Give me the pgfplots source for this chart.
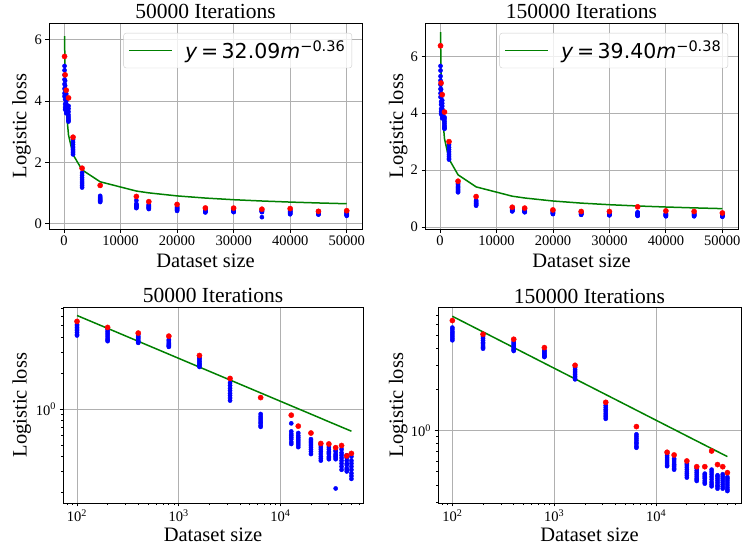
\documentclass[border=0pt]{standalone}
\usepackage{pgfplots}
\usepackage{pgfplotstable}
\pgfplotsset{compat=1.18}
\usepackage{fontspec}
\setmainfont{Liberation Serif}
\newfontfamily\dejavu{DejaVu Sans}

% ---------- data: 50000 iterations ----------
\pgfplotstableread{
x y
100 5.14
100 5.00
100 4.85
100 4.70
100 4.55
100 4.40
100 4.25
100 4.15
200 4.66
200 4.50
200 4.35
200 4.20
200 4.05
200 3.90
200 3.80
200 3.72
400 4.23
400 4.10
400 4.00
400 3.90
400 3.80
400 3.70
400 3.65
400 3.60
800 3.84
800 3.75
800 3.65
800 3.55
800 3.48
800 3.42
800 3.37
800 3.33
1600 2.74
1600 2.66
1600 2.58
1600 2.50
1600 2.43
1600 2.37
1600 2.31
1600 2.26
3200 1.66
3200 1.58
3200 1.50
3200 1.43
3200 1.36
3200 1.30
3200 1.24
3200 1.18
6400 0.91
6400 0.87
6400 0.84
6400 0.81
6400 0.78
6400 0.76
6400 0.73
6400 0.71
12800 0.76
12800 0.65
12800 0.62
12800 0.60
12800 0.58
12800 0.56
12800 0.53
12800 0.51
15000 0.63
15000 0.60
15000 0.58
15000 0.56
15000 0.54
15000 0.52
15000 0.50
15000 0.48
20000 0.56
20000 0.54
20000 0.52
20000 0.50
20000 0.48
20000 0.46
20000 0.44
20000 0.42
25000 0.50
25000 0.48
25000 0.46
25000 0.44
25000 0.42
25000 0.40
25000 0.385
25000 0.37
30000 0.48
30000 0.46
30000 0.44
30000 0.43
30000 0.42
30000 0.40
30000 0.39
30000 0.38
35000 0.45
35000 0.44
35000 0.42
35000 0.41
35000 0.40
35000 0.39
35000 0.38
35000 0.216
40000 0.46
40000 0.43
40000 0.41
40000 0.39
40000 0.37
40000 0.35
40000 0.33
40000 0.31
45000 0.41
45000 0.39
45000 0.37
45000 0.35
45000 0.34
45000 0.32
45000 0.31
45000 0.30
50000 0.40
50000 0.37
50000 0.35
50000 0.33
50000 0.31
50000 0.29
50000 0.275
50000 0.26
}\blueA

\pgfplotstableread{
x y
100 5.45
200 4.85
400 4.35
800 4.10
1600 2.82
3200 1.81
6400 1.25
12800 0.89
15000 0.72
20000 0.63
25000 0.515
30000 0.51
35000 0.475
40000 0.495
45000 0.405
50000 0.425
}\redA

\pgfplotstableread{
x y
100 6.11
200 4.764
400 3.712
800 2.892
1600 2.253
3200 1.756
6400 1.368
12800 1.066
15000 1.007
20000 0.908
25000 0.838
30000 0.784
35000 0.742
40000 0.707
45000 0.678
50000 0.653
}\lineA

% ---------- data: 150000 iterations ----------
\pgfplotstableread{
x y
100 5.66
100 5.50
100 5.30
100 5.15
100 5.00
100 4.85
100 4.70
100 4.57
200 4.84
200 4.70
200 4.55
200 4.40
200 4.30
200 4.15
200 4.05
200 3.97
400 4.45
400 4.35
400 4.25
400 4.15
400 4.05
400 3.95
400 3.88
400 3.82
800 3.86
800 3.80
800 3.72
800 3.65
800 3.58
800 3.52
800 3.48
800 3.45
1600 2.89
1600 2.80
1600 2.72
1600 2.64
1600 2.56
1600 2.49
1600 2.42
1600 2.37
3200 1.53
3200 1.48
3200 1.43
3200 1.39
3200 1.34
3200 1.30
3200 1.26
3200 1.22
6400 0.94
6400 0.91
6400 0.88
6400 0.85
6400 0.82
6400 0.80
6400 0.77
6400 0.75
12800 0.68
12800 0.66
12800 0.64
12800 0.62
12800 0.60
12800 0.58
12800 0.56
12800 0.55
15000 0.624
15000 0.61
15000 0.59
15000 0.57
15000 0.56
15000 0.545
15000 0.53
15000 0.519
20000 0.574
20000 0.56
20000 0.54
20000 0.52
20000 0.50
20000 0.485
20000 0.47
20000 0.454
25000 0.528
25000 0.51
25000 0.495
25000 0.48
25000 0.465
25000 0.45
25000 0.44
25000 0.429
30000 0.485
30000 0.475
30000 0.465
30000 0.455
30000 0.445
30000 0.43
30000 0.42
30000 0.41
35000 0.519
35000 0.50
35000 0.48
35000 0.46
35000 0.44
35000 0.42
35000 0.405
35000 0.392
40000 0.472
40000 0.46
40000 0.445
40000 0.43
40000 0.415
40000 0.40
40000 0.39
40000 0.377
45000 0.48
45000 0.465
45000 0.45
45000 0.435
45000 0.42
45000 0.405
45000 0.39
45000 0.377
50000 0.458
50000 0.445
50000 0.43
50000 0.415
50000 0.40
50000 0.385
50000 0.372
50000 0.362
}\blueB

\pgfplotstableread{
x y
100 6.37
200 5.06
400 4.65
800 4.04
1600 3.00
3200 1.61
6400 1.07
12800 0.695
15000 0.664
20000 0.600
25000 0.545
30000 0.545
35000 0.710
40000 0.565
45000 0.545
50000 0.493
}\redB

\pgfplotstableread{
x y
100 6.847
200 5.262
400 4.043
800 3.107
1600 2.387
3200 1.835
6400 1.410
12800 1.083
15000 1.020
20000 0.914
25000 0.840
30000 0.784
35000 0.739
40000 0.703
45000 0.672
50000 0.646
}\lineB

\definecolor{mplgreen}{HTML}{008000}
\definecolor{mplgrid}{HTML}{B0B0B0}

\pgfplotsset{
  mpl/.style={
    scale only axis,
    axis line style={black, line width=0.8pt},
    tick align=outside,
    xtick pos=left, ytick pos=left,
    major tick length=3.5pt, minor tick length=2pt,
    every tick/.style={black, line width=0.8pt},
    xmajorgrids, ymajorgrids,
    major grid style={mplgrid, line width=0.8pt},
    tick label style={font=\fontsize{14.5}{16}\selectfont},
    /pgf/number format/assume math mode=true,
    every axis title/.style={at={(0.5,1)}, anchor=base, yshift=4pt, font=\fontsize{21.5}{24}\selectfont},
    every axis x label/.style={at={(axis description cs:0.5,0)}, anchor=base, yshift=-38pt, font=\fontsize{20.5}{24}\selectfont},
    xlabel={Dataset size},
    ylabel={Logistic loss},
  },
  ylab/.style={every axis y label/.style={at={(axis description cs:0,0.5)}, xshift=-#1, anchor=base, rotate=90, font=\fontsize{20.5}{24}\selectfont}},
  mpllegend/.style={
    legend style={at={(1,1)}, anchor=north east, xshift=-10pt, yshift=-10pt,
      draw=black!20, rounded corners=2.5pt, fill=white, fill opacity=0.8, text opacity=1,
      inner xsep=5pt, inner ysep=6pt,
      font=\dejavu\fontsize{20.5}{24}\selectfont},
    legend cell align=left,
    legend image code/.code={\draw[##1, line width=1.5pt] (0pt,0pt) -- (43pt,0pt);},
  },
  linaxis/.style={
    xtick={0,10000,20000,30000,40000,50000},
    ytick={0,2,4,6},
    scaled x ticks=false,
    xticklabel style={/pgf/number format/1000 sep={}},
  },
  bluepts/.style={only marks, mark=*, mark size=2.1pt, color=blue, forget plot},
  redpts/.style={only marks, mark=*, mark size=2.6pt, color=red, forget plot},
  fitline/.style={mplgreen, line width=1.5pt, mark=none},
}

\begin{document}
\begin{tikzpicture}
\path[use as bounding box] (0pt,0pt) rectangle (742pt,550pt);

% ---- top left ----
\begin{axis}[mpl, linaxis, mpllegend, ylab=22.5pt,
  at={(49pt,321pt)}, anchor=south west, width=313pt, height=206pt,
  xmin=-2650, xmax=52700, ymin=-0.17, ymax=6.54,
  title={50000 Iterations}]
\addplot[bluepts] table {\blueA};
\addplot[fitline] table {\lineA};
\addlegendentry{\hspace{10pt}\textit{y}\hspace{3.5pt}=\hspace{3.5pt}32.09\textit{m}\raisebox{6.5pt}{\fontsize{14.5}{16}\selectfont −0.36}}
\addplot[redpts] table {\redA};
\end{axis}

% ---- top right ----
\begin{axis}[mpl, linaxis, mpllegend, ylab=22pt,
  at={(425pt,321pt)}, anchor=south west, width=313pt, height=206pt,
  xmin=-2650, xmax=52770, ymin=-0.07, ymax=7.17,
  title={150000 Iterations}]
\addplot[bluepts] table {\blueB};
\addplot[fitline] table {\lineB};
\addlegendentry{\hspace{10pt}\textit{y}\hspace{3.5pt}=\hspace{3.5pt}39.40\textit{m}\raisebox{6.5pt}{\fontsize{14.5}{16}\selectfont −0.38}}
\addplot[redpts] table {\redB};
\end{axis}

% ---- bottom left ----
\begin{loglogaxis}[mpl, ylab=36.5pt,
  at={(63pt,47pt)}, anchor=south west, width=300pt, height=196pt,
  xmin=72.8, xmax=65000, ymin=0.163, ymax=7.2,
  xtick={100,1000,10000},
  xticklabels={10\textsuperscript{2},10\textsuperscript{3},10\textsuperscript{4}},
  minor xtick={80,90,200,300,400,500,600,700,800,900,2000,3000,4000,5000,6000,7000,8000,9000,20000,30000,40000,50000,60000},
  ytick={1}, yticklabels={10\textsuperscript{0}},
  minor ytick={0.2,0.3,0.4,0.5,0.6,0.7,0.8,0.9,2,3,4,5,6,7},
  title={50000 Iterations}]
\addplot[bluepts] table {\blueA};
\addplot[fitline, forget plot] table {\lineA};
\addplot[redpts] table {\redA};
\end{loglogaxis}

% ---- bottom right ----
\begin{loglogaxis}[mpl, ylab=35pt,
  at={(438pt,47pt)}, anchor=south west, width=303pt, height=196pt,
  xmin=72.3, xmax=68000, ymin=0.296, ymax=8.0,
  xtick={100,1000,10000},
  xticklabels={10\textsuperscript{2},10\textsuperscript{3},10\textsuperscript{4}},
  minor xtick={80,90,200,300,400,500,600,700,800,900,2000,3000,4000,5000,6000,7000,8000,9000,20000,30000,40000,50000,60000},
  ytick={1}, yticklabels={10\textsuperscript{0}},
  minor ytick={0.3,0.4,0.5,0.6,0.7,0.8,0.9,2,3,4,5,6,7},
  title={150000 Iterations}]
\addplot[bluepts] table {\blueB};
\addplot[fitline, forget plot] table {\lineB};
\addplot[redpts] table {\redB};
\end{loglogaxis}
\end{tikzpicture}
\end{document}
